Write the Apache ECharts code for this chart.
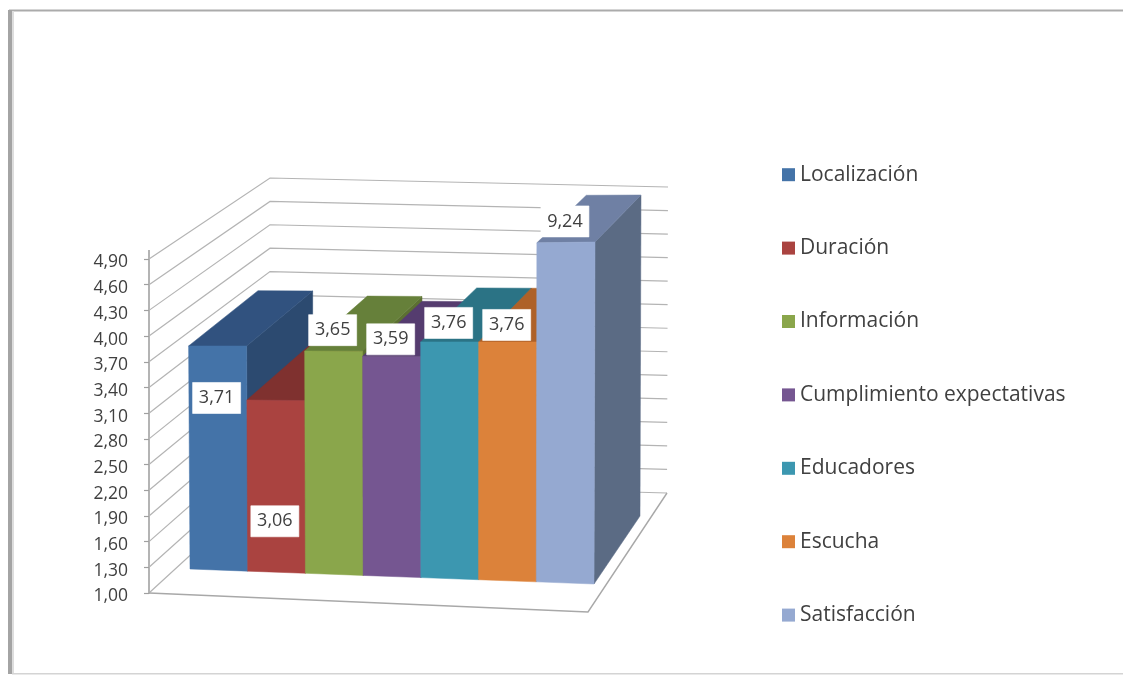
<!DOCTYPE html>
<html><head><meta charset="utf-8">
<style>html,body{margin:0;padding:0;background:#fff}#c{width:1123px;height:676px;filter:blur(0.6px)}</style>
<script src="https://cdn.jsdelivr.net/npm/echarts@6/dist/echarts.min.js"></script>
</head><body><div id="c"></div>
<script>
const categories = ['Localización','Duración','Información','Cumplimiento expectativas','Educadores','Escucha','Satisfacción'];
const values = [3.71,3.06,3.65,3.59,3.76,3.76,9.24];
const tickValues = [1.0,1.3,1.6,1.9,2.2,2.5,2.8,3.1,3.4,3.7,4.0,4.3,4.6,4.9];
const axisMin = 1.0, axisMax = 4.9;

// styles and layout
const frontColors = ['#4473a8','#aa4340','#8aa64b','#755691','#3c97b0','#dc823a','#95a9d1'];
const sideColors  = ['#2c4a70','#702c2a','#5c7032','#4e3a61','#286476','#93562a','#5b6b84'];
const topColors   = ['#31527f','#7f312f','#66803a','#553c6f','#2b7385','#ae6128','#6f80a4'];
const labelShift  = [52,121,-21,-17,-19,-17,-21];
const GRID = {left:149, top:259, width:439, height:334};
// projected corners of the bar block: [u][v][depth]
const BOX = {
  f:{lb:[190,569],rb:[594,584],lt:[188,248],rt:[595,242]},
  b:{lb:[258,504],rb:[640,516],lt:[258,197],rt:[641,195]}
};
// back-wall ends of the gridlines
const WALL = {blb:[270,482],blt:[270,178],brb:[667,493],brt:[668,187],frontRight:[588,612]};
const lerp=(a,b,t)=>a+(b-a)*t;
const lp=(p,q,t)=>[lerp(p[0],q[0],t),lerp(p[1],q[1],t)];
function project(u,v,d){
  const fb=lp(BOX.f.lb,BOX.f.rb,u), ft=lp(BOX.f.lt,BOX.f.rt,u);
  const bb=lp(BOX.b.lb,BOX.b.rb,u), bt=lp(BOX.b.lt,BOX.b.rt,u);
  return lp(lp(fb,ft,v),lp(bb,bt,v),d);
}
const fmt=v=>v.toFixed(2).replace('.',',');

function renderFrame(params,api){
  const cs=params.coordSys, tick=api.value(1);
  const p=api.coord([0,tick]);
  const v=(cs.y+cs.height-p[1])/cs.height;
  const stroke={stroke:'#b4b4b4',lineWidth:1.2,fill:null};
  const kids=[{type:'polyline',shape:{points:[[cs.x,p[1]],lp(WALL.blb,WALL.blt,v),lp(WALL.brb,WALL.brt,v)]},style:stroke}];
  if(params.dataIndex===0){
    kids.push({type:'polyline',shape:{points:[[cs.x,p[1]],WALL.frontRight,WALL.brb]},style:{stroke:'#a8a8a8',lineWidth:1.4,fill:null}});
  }
  if(params.dataIndex===tickValues.length-1){
    kids.push({type:'line',shape:{x1:cs.x,y1:p[1]-9,x2:cs.x,y2:p[1]},style:{stroke:'#b4b4b4',lineWidth:2}});
  }
  return {type:'group',children:kids};
}
function renderBar(params,api){
  const cs=params.coordSys, i=api.value(0), val=api.value(1);
  const c=api.coord([i,Math.min(val,axisMax)]);
  const w=api.size([1,0])[0];
  const u0=(c[0]-w/2-cs.x)/cs.width, u1=(c[0]+w/2-cs.x)/cs.width;
  const v=(cs.y+cs.height-c[1])/cs.height;
  const poly=(pts,col)=>({type:'polygon',shape:{points:pts},style:{fill:col,stroke:col,lineWidth:0.5}});
  const fl=project(u0,0,0),fr=project(u1,0,0),tl=project(u0,v,0),tr=project(u1,v,0);
  const bl=project(u0,v,1),br=project(u1,v,1),brb=project(u1,0,1);
  const idx=params.seriesIndex-1;
  return {type:'group',children:[
    poly([fr,tr,br,brb],sideColors[idx]),
    poly([tl,tr,br,bl],topColors[idx]),
    poly([fl,fr,tr,tl],frontColors[idx])
  ]};
}
function renderLabel(params,api){
  const cs=params.coordSys, i=api.value(0), val=api.value(1);
  const c=api.coord([i,Math.min(val,axisMax)]);
  const w=api.size([1,0])[0];
  const u0=(c[0]-w/2-cs.x)/cs.width, u1=(c[0]+w/2-cs.x)/cs.width;
  const v=(cs.y+cs.height-c[1])/cs.height;
  const m=lp(project(u0,v,0),project(u1,v,0),0.5);
  const x=m[0]-1, y=m[1]+labelShift[i];
  return {type:'group',children:[
    {type:'rect',shape:{x:x-24,y:y-15.5,width:48,height:31},style:{fill:'#fff',stroke:'rgba(255,255,255,0.6)',lineWidth:1}},
    {type:'text',style:{x:x,y:y,text:fmt(val),align:'center',verticalAlign:'middle',font:'18px "Open Sans"',fill:'#404040'}}
  ]};
}
const series=[{type:'custom',name:'frame',coordinateSystem:'cartesian2d',clip:false,silent:true,z:1,
  renderItem:renderFrame,encode:{x:0,y:1},data:tickValues.map(t=>[0,t])}];
categories.forEach((n,i)=>series.push({type:'custom',name:n,coordinateSystem:'cartesian2d',clip:false,silent:true,z:2+i,
  itemStyle:{color:frontColors[i]},renderItem:renderBar,encode:{x:0,y:1},data:[[i,values[i]]]}));
series.push({type:'custom',name:'labels',coordinateSystem:'cartesian2d',clip:false,silent:true,z:20,
  renderItem:renderLabel,encode:{x:0,y:1},data:values.map((v,i)=>[i,v])});

const chart=echarts.init(document.getElementById('c'));
chart.setOption({
  animation:false,backgroundColor:'#fff',
  textStyle:{fontFamily:'"Open Sans"'},
  graphic:[
    {type:'rect',shape:{x:9,y:9.5,width:1114,height:2},style:{fill:'#ababab'},silent:true},
    {type:'rect',shape:{x:8,y:10,width:4,height:664},style:{fill:'#a4a4a4'},silent:true},
    {type:'rect',shape:{x:12,y:11,width:2,height:662},style:{fill:'#dddddd'},silent:true},
    {type:'rect',shape:{x:12,y:673,width:1111,height:1.5},style:{fill:'#d4d4d4'},silent:true}
  ],
  grid:{left:GRID.left,top:GRID.top,width:GRID.width,height:GRID.height,containLabel:false},
  xAxis:{type:'category',data:categories,boundaryGap:true,show:false},
  yAxis:{type:'value',min:axisMin,max:axisMax,splitLine:{show:false},
    axisLine:{show:true,lineStyle:{color:'#b4b4b4',width:2}},
    axisTick:{show:true,length:5,customValues:tickValues,lineStyle:{color:'#a0a0a0',width:1.2}},
    axisLabel:{show:true,margin:21,fontSize:17.5,color:'#404040',verticalAlign:'top',lineHeight:7,customValues:tickValues,formatter:v=>fmt(v)}},
  legend:{orient:'vertical',left:777,top:159,itemWidth:13,itemHeight:13,itemGap:52,icon:'rect',
    selectedMode:false,data:categories,textStyle:{fontSize:21,color:'#404040',lineHeight:21.4},itemStyle:{borderWidth:0}},
  series:series
});
</script></body></html>
